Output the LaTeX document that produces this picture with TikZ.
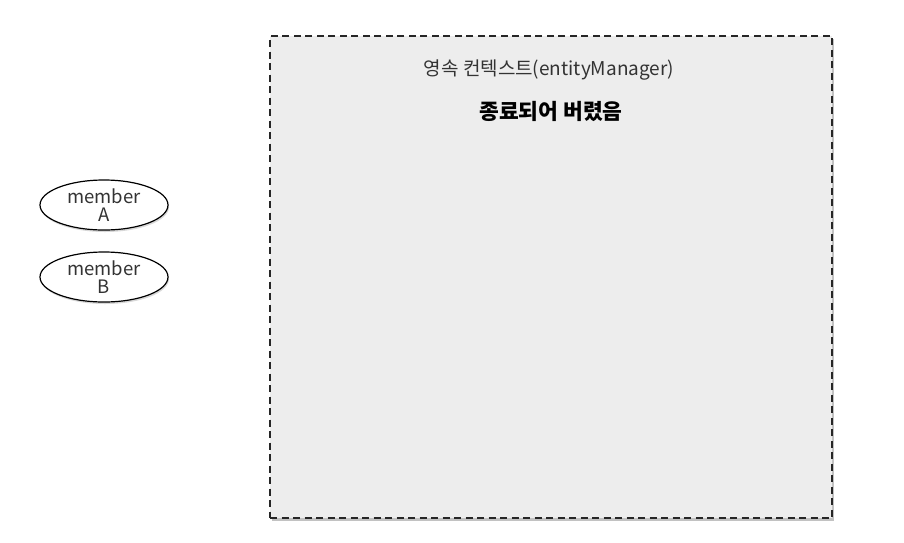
\documentclass[tikz,border=0pt]{standalone}
\usepackage{fontspec}
\setmainfont{Noto Sans CJK KR}
\usetikzlibrary{shapes.geometric,shadows}
\definecolor{boxfill}{HTML}{EDEDED}
\definecolor{txt}{HTML}{333333}
\tikzset{
  ctxbox/.style={draw=black!85, fill=boxfill, line width=1.6pt, dash pattern=on 7pt off 4.5pt,
    drop shadow={shadow xshift=2pt, shadow yshift=-3pt, fill=black!40, opacity=0.6}},
  entity/.style={ellipse, draw=black, line width=1.2pt, fill=white, minimum width=128pt, minimum height=50pt,
    inner sep=0pt, align=center, font=\fontsize{18.5}{18}\selectfont, text=txt,
    drop shadow={shadow xshift=1pt, shadow yshift=-2pt, fill=black!30, opacity=0.5}},
  ctxlabel/.style={font=\fontsize{19}{21}\selectfont, text=txt},
  ctxnote/.style={font=\fontsize{21.5}{24}\selectfont\bfseries, text=black}
}
\begin{document}
\begin{tikzpicture}[x=1pt,y=-1pt]
\useasboundingbox (0,0) rectangle (904,542);
\node[ctxbox, minimum width=562pt, minimum height=482pt, inner sep=0pt] (ctx) at (551,277) {};
\node[ctxlabel] (title) at (549,70) {영속 컨텍스트(entityManager)};
\node[ctxnote] (note) at (551,111) {종료되어 버렸음};
\node[entity] (ma) at (104,205) {member\\A};
\node[entity] (mb) at (104,277) {member\\B};
\end{tikzpicture}
\end{document}
